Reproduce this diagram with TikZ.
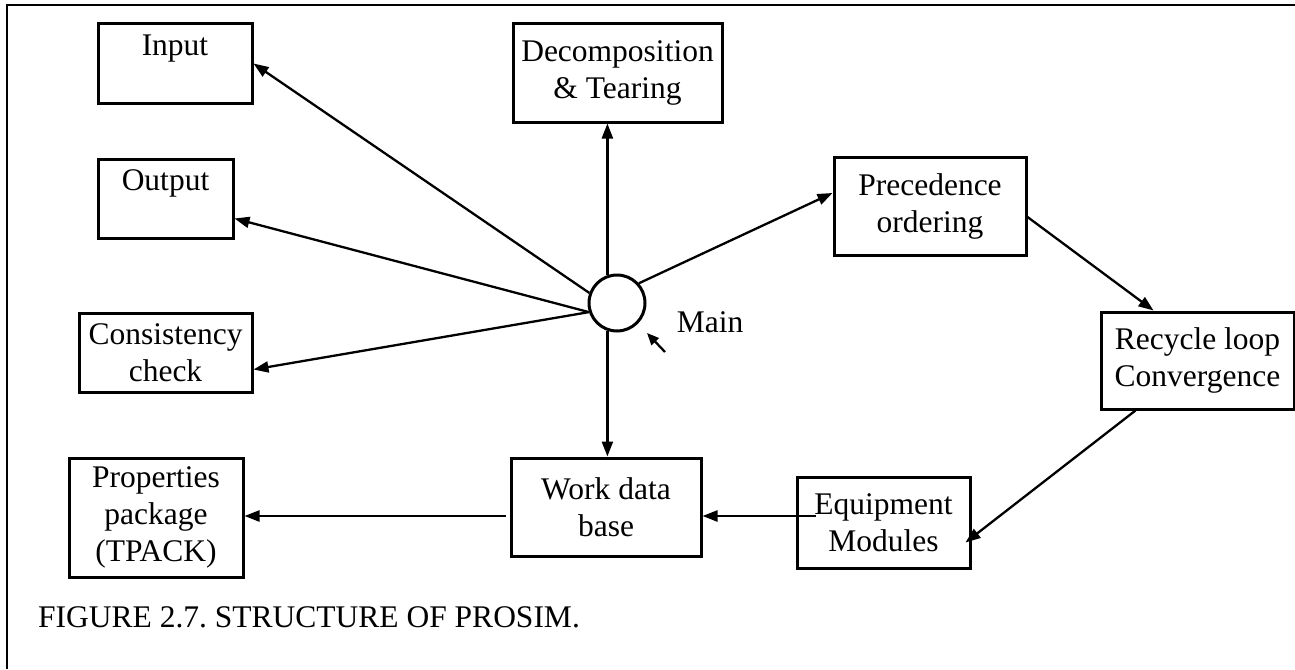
\documentclass[tikz,border=0pt]{standalone}
\usepackage{fontspec}
\setmainfont{Liberation Serif}
\usetikzlibrary{arrows.meta}
\frenchspacing
\begin{document}
\begin{tikzpicture}[x=1pt,y=-1pt,
  box/.style={draw,line width=3pt,inner sep=0pt,align=center,font=\fontsize{31.5}{37}\selectfont},
  conn/.style={line width=2.3pt,-{Triangle[length=15pt,width=11pt]}},
  frameline/.style={line width=2.5pt},
  lbl/.style={inner sep=0pt,font=\fontsize{31.5}{37}\selectfont}
]
\useasboundingbox (0,0) rectangle (1295,669);
% frame
\coordinate (ftl) at (7,5);
\coordinate (ftr) at (1295,5);
\coordinate (fbl) at (7,669);
\draw[frameline] (fbl) -- (ftl) -- (ftr);

% boxes
\node[box,minimum width=154pt,minimum height=79pt] (in) at (175,63.5) {Input\\\mbox{}};
\node[box,minimum width=135pt,minimum height=79pt] (out) at (165.5,198.5) {Output\\\mbox{}};
\node[box,minimum width=173pt,minimum height=79pt] (con) at (165.5,352.5) {Consistency\\check};
\node[box,minimum width=174pt,minimum height=119pt] (prop) at (156,517.5) {Properties\\package\\(TPACK)};
\node[box,minimum width=209pt,minimum height=98pt] (dec) at (617.5,73) {Decomposition\\\&\ Tearing};
\node[box,minimum width=192pt,minimum height=98pt] (pre) at (930,206) {Precedence\\ordering};
\node[box,minimum width=193pt,minimum height=97pt] (rec) at (1197.5,360.5) {Recycle loop\\Convergence};
\node[box,minimum width=190pt,minimum height=98pt] (wdb) at (606,507) {Work data\\base};
\node[box,minimum width=173pt,minimum height=91pt] (eq) at (883.5,522.5) {Equipment\\Modules};

% main circle
\node[draw,circle,line width=3pt,minimum size=56pt,inner sep=0pt] (m) at (617,303) {};
\node[lbl] (ml) at (710,322) {Main};
\coordinate (mpa) at (665,352);
\coordinate (mpb) at (647,333);
\draw[conn,-{Triangle[length=12pt,width=10pt]}] (mpa) -- (mpb);

% connectors
\draw[conn] (m.160) -- (in.east);
\draw[conn] (m.198) -- ([yshift=-20pt]out.east);
\draw[conn] (m.198) -- ([yshift=-17pt]con.east);
\draw[conn] (m.109) -- (m.109 |- dec.south);
\draw[conn] (m.251) -- (m.251 |- wdb.north);
\draw[conn] (m.42) -- ([yshift=13pt]pre.west);
\draw[conn] ([yshift=-11pt]pre.east) -- ([xshift=-44pt]rec.north);
\draw[conn] ([xshift=-62pt]rec.south) -- ([xshift=-6pt,yshift=-20pt]eq.east);
\draw[conn] ([xshift=20pt,yshift=6.5pt]eq.west) -- ([yshift=-9pt]wdb.east);
\draw[conn] ([xshift=-4pt,yshift=-9pt]wdb.west) -- ([yshift=1.5pt]prop.east);

% caption
\node[lbl,anchor=base west] (cap) at (38,627) {FIGURE 2.7. STRUCTURE OF PROSIM.};
\end{tikzpicture}
\end{document}
